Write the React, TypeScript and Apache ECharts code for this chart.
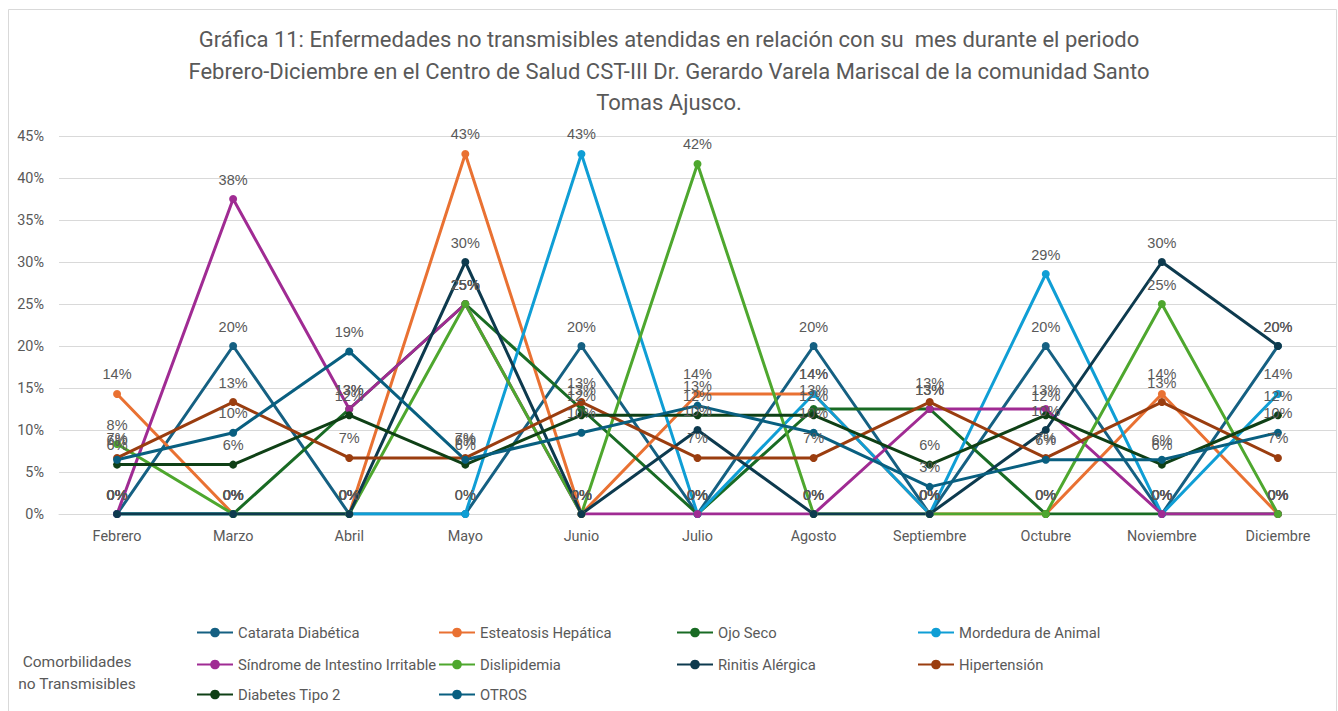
import React, { useEffect, useRef } from "react";
import * as echarts from "echarts";

const months = ["Febrero", "Marzo", "Abril", "Mayo", "Junio", "Julio", "Agosto", "Septiembre", "Octubre", "Noviembre", "Diciembre"];

const catarata = [0, 20, 0, 0, 20, 0, 20, 0, 20, 0, 20];
const esteatosis = [14.29, 0, 0, 42.86, 0, 14.29, 14.29, 0, 0, 14.29, 0];
const ojoSeco = [0, 0, 12.5, 25, 12.5, 0, 12.5, 12.5, 0, 0, 0];
const mordedura = [0, 0, 0, 0, 42.86, 0, 14.29, 0, 28.57, 0, 14.29];
const sindrome = [0, 37.5, 12.5, 25, 0, 0, 0, 12.5, 12.5, 0, 0];
const dislipidemia = [8.33, 0, 0, 25, 0, 41.67, 0, 0, 0, 25, 0];
const rinitis = [0, 0, 0, 30, 0, 10, 0, 0, 10, 30, 20];
const hipertension = [6.67, 13.33, 6.67, 6.67, 13.33, 6.67, 6.67, 13.33, 6.67, 13.33, 6.67];
const diabetes = [5.88, 5.88, 11.76, 5.88, 11.76, 11.76, 11.76, 5.88, 11.76, 5.88, 11.76];
const otros = [6.45, 9.68, 19.35, 6.45, 9.68, 12.9, 9.68, 3.23, 6.45, 6.45, 9.68];

const seriesNames = [
  "Catarata Diabética",
  "Esteatosis Hepática",
  "Ojo Seco",
  "Mordedura de Animal",
  "Síndrome de Intestino Irritable",
  "Dislipidemia",
  "Rinitis Alérgica",
  "Hipertensión",
  "Diabetes Tipo 2",
  "OTROS",
];
const seriesData = [catarata, esteatosis, ojoSeco, mordedura, sindrome, dislipidemia, rinitis, hipertension, diabetes, otros];
const seriesColors = ["#156082", "#E97132", "#196B24", "#0F9ED5", "#A02B93", "#4EA72E", "#0D3A4E", "#9A3D0F", "#0F4016", "#095F80"];

const yTicks = { min: 0, max: 45, interval: 5 };

const titleText =
  "Gráfica 11: Enfermedades no transmisibles atendidas en relación con su  mes durante el periodo\nFebrero-Diciembre en el Centro de Salud CST-III Dr. Gerardo Varela Mariscal de la comunidad Santo\nTomas Ajusco.";

const FONT = "Roboto, 'Liberation Sans', sans-serif";

export default function App() {
  const ref = useRef<HTMLDivElement>(null);
  useEffect(() => {
    if (!ref.current) return;
    const chart = echarts.init(ref.current, null, { renderer: "svg" });
    const legendCols = [191, 433, 671, 912];
    const legendRows = [620, 652, 682];
    const legends = seriesNames.map((name, i) => ({
      data: [name],
      left: legendCols[i % 4],
      top: legendRows[Math.floor(i / 4)],
      itemWidth: 36,
      itemHeight: 12,
      textStyle: { color: "#595959", fontSize: 14.8, fontFamily: FONT },
      selectedMode: false,
    }));
    chart.setOption({
      animation: false,
      backgroundColor: "#ffffff",
      legend: legends,
      graphic: [
        {
          type: "rect",
          shape: { x: 8.5, y: 9.5, width: 1328, height: 720 },
          style: { fill: "none", stroke: "#d9d9d9", lineWidth: 1 },
          silent: true,
        },
        {
          type: "text",
          x: 669,
          y: 24,
          style: {
            text: titleText,
            fill: "#595959",
            fontSize: 22,
            fontFamily: FONT,
            align: "center",
            verticalAlign: "top",
            lineHeight: 31.5,
          },
        },
        {
          type: "text",
          x: 77,
          y: 651,
          style: {
            text: "Comorbilidades\nno Transmisibles",
            fill: "#595959",
            fontSize: 15.5,
            fontFamily: FONT,
            align: "center",
            verticalAlign: "top",
            lineHeight: 22,
          },
        },
      ],
      grid: { left: 59, right: 2, top: 136, bottom: 711 - 514 },
      xAxis: {
        type: "category",
        data: months,
        boundaryGap: true,
        axisLine: { show: true, lineStyle: { color: "#d9d9d9", width: 1 } },
        axisTick: { show: false },
        axisLabel: { color: "#595959", fontSize: 14.4, fontFamily: FONT, margin: 15 },
      },
      yAxis: {
        type: "value",
        min: yTicks.min,
        max: yTicks.max,
        interval: yTicks.interval,
        axisLine: { show: false },
        axisTick: { show: false },
        axisLabel: { color: "#595959", fontSize: 14.4, fontFamily: FONT, margin: 15, formatter: "{value}%" },
        splitLine: { lineStyle: { color: "#d9d9d9", width: 1 } },
      },
      series: seriesNames.map((name, i) => ({
        name,
        type: "line",
        data: seriesData[i],
        color: seriesColors[i],
        symbol: "circle",
        symbolSize: 8,
        lineStyle: { width: 3, color: seriesColors[i] },
        itemStyle: { color: seriesColors[i] },
        label: {
          show: true,
          position: "top",
          distance: 8,
          color: "#595959",
          fontSize: 14.5,
          fontFamily: "'Liberation Sans', Arial, sans-serif",
          formatter: (p: any) => Math.round(p.value) + "%",
        },
      })),
    });
    return () => chart.dispose();
  }, []);
  return <div ref={ref} style={{ position: "absolute", left: 0, top: 0, width: 1338, height: 711 }} />;
}
